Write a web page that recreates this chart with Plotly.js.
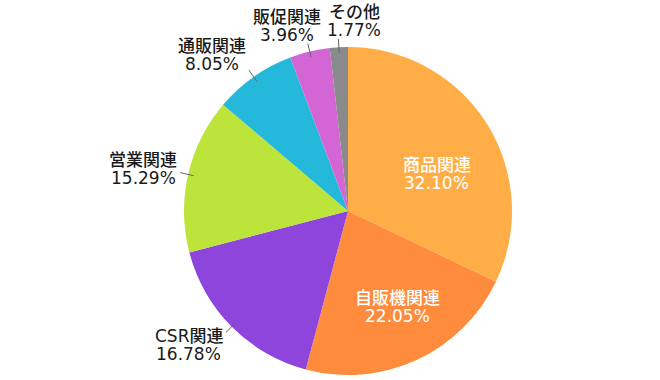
<!DOCTYPE html>
<html><head><meta charset="utf-8">
<script src="https://cdn.plot.ly/plotly-3.0.1.min.js"></script>
<style>html,body{margin:0;padding:0;background:#fff}</style>
</head><body><div id="chart" style="width:660px;height:380px"></div>
<script>
const labels = ['商品関連','自販機関連','CSR関連','営業関連','通販関連','販促関連','その他'];
const values = [32.10, 22.05, 16.78, 15.29, 8.05, 3.96, 1.77];
const colors = ['#FFAE47','#FF8B3C','#8E45DC','#BDE43B','#24B8DB','#D365D4','#8A8A8A'];

const W = 660, H = 380;
const cx = 348, cy = 211, R = 164;
const FONT = 'DejaVu Sans, Noto Sans CJK JP';
const FS = 17, LH = 18;
const px = x => x / W, py = y => 1 - y / H;

const ctx = document.createElement('canvas').getContext('2d');
ctx.font = '500 ' + FS + 'px "DejaVu Sans", "Noto Sans CJK JP"';
const tw = s => ctx.measureText(s).width;

const total = values.reduce((a, b) => a + b, 0);
const annotations = [], shapes = [];
const outside = [];
let cum = 0;
values.forEach((v, i) => {
  const mid = (cum + v / 2) / total * 2 * Math.PI;
  cum += v;
  const s = Math.sin(mid), c = Math.cos(mid);
  const l1 = labels[i], l2 = v.toFixed(2) + '%';
  if (v / total > 0.2) {
    // inside label, nudged slightly towards the horizontal
    const a = mid + 0.08 * Math.sign(Math.PI / 2 - Math.abs(mid - Math.PI / 2) ) * (mid < Math.PI ? (mid < Math.PI / 2 ? 1 : -1) : 0);
    const x = cx + 0.61 * R * Math.sin(a), y = cy - 0.61 * R * Math.cos(a);
    annotations.push({text: l1, x: px(x), y: py(y), col: '#fff'});
    annotations.push({text: l2, x: px(x), y: py(y + LH), col: '#fff'});
  } else {
    const r0 = 0.965 * R, r1 = 1.05 * R;
    const x0 = cx + r0 * s, y0 = cy - r0 * c, x1 = cx + r1 * s, y1 = cy - r1 * c;
    shapes.push({type: 'line', xref: 'paper', yref: 'paper', x0: px(x0), y0: py(y0), x1: px(x1), y1: py(y1), line: {color: '#666', width: 1}});
    const w = Math.max(tw(l1), tw(l2));
    const h = 2 * LH;
    const k = Math.max(-0.5, Math.min(0.5, s * 1.1));
    const bx = x1 + k * w + Math.sign(s) * 3;
    const by = y1 - c * 0.5 * h;
    outside.push({l1, l2, bx, by, w, h});
  }
});
// resolve overlaps between neighbouring outside labels
for (let i = outside.length - 2; i >= 0; i--) {
  const a = outside[i], b = outside[i + 1];
  const overlapY = Math.abs(a.by - b.by) < (a.h + b.h) / 2;
  const minDx = (a.w + b.w) / 2 + 6;
  if (overlapY && b.bx - a.bx < minDx && b.bx >= a.bx - 1) {
    b.bx = a.bx + minDx;
  }
}
outside.forEach(o => {
  annotations.push({text: o.l1, x: px(o.bx), y: py(o.by - LH / 2), col: '#1a1a1a'});
  annotations.push({text: o.l2, x: px(o.bx), y: py(o.by + LH / 2), col: '#1a1a1a'});
});

const anns = annotations.map(a => ({
  text: a.text, x: a.x, y: a.y, xref: 'paper', yref: 'paper',
  xanchor: 'center', yanchor: 'middle', showarrow: false,
  font: {family: FONT, size: FS, color: a.col, weight: 500}
}));

Plotly.newPlot('chart', [{
  type: 'pie',
  labels: labels,
  values: values,
  sort: false,
  direction: 'clockwise',
  rotation: 0,
  marker: {colors: colors, line: {width: 0}},
  textinfo: 'none',
  hoverinfo: 'none',
  showlegend: false,
  domain: {x: [(cx - R) / W, (cx + R) / W], y: [1 - (cy + R) / H, 1 - (cy - R) / H]}
}], {
  width: W, height: H,
  margin: {l: 0, r: 0, t: 0, b: 0},
  paper_bgcolor: '#fff',
  font: {family: FONT},
  annotations: anns,
  shapes: shapes
}, {displayModeBar: false, staticPlot: true});
</script></body></html>
